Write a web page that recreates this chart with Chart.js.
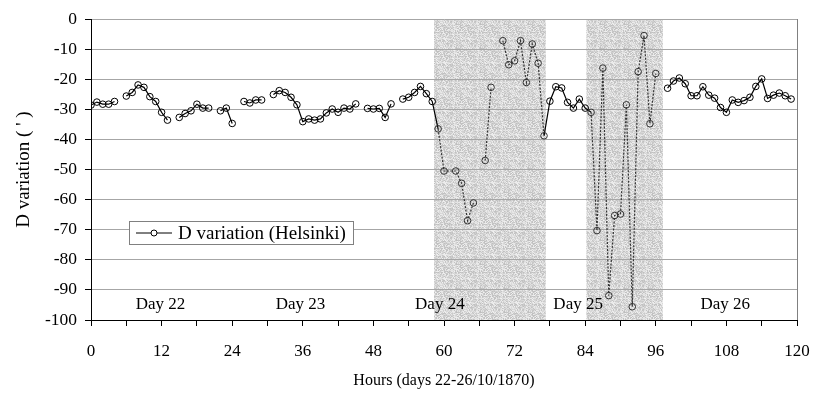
<!DOCTYPE html>
<html>
<head>
<meta charset="utf-8">
<script src="https://cdn.jsdelivr.net/npm/chart.js@4"></script>
<style>
  html, body { margin: 0; padding: 0; background: #fff; }
  #wrap { width: 814px; height: 394px; }
</style>
</head>
<body>
<div id="wrap"><canvas id="chart" width="814" height="394"></canvas></div>
<script>
// hourly D readings, null = break in the record
const hours = [
  0, 1, 2, 3, 4, 5, 6, 7, 8, 9, 10, 11, 12, 13, 14, 15, 16, 17, 18, 19,
  20, 21, 22, 23, 24, 25, 26, 27, 28, 29, 30, 31, 32, 33, 34, 35, 36, 37, 38, 39,
  40, 41, 42, 43, 44, 45, 46, 47, 48, 49, 50, 51, 52, 53, 54, 55, 56, 57, 58, 59,
  60, 62, 63, 64, 65, 66, 67, 68, 69, 70, 71, 72, 73, 74, 75, 76, 77, 78, 79,
  80, 81, 82, 83, 84, 85, 86, 87, 88, 89, 90, 91, 92, 93, 94, 95, 96, 97, 98, 99,
  100, 101, 102, 103, 104, 105, 106, 107, 108, 109, 110, 111, 112, 113, 114, 115, 116, 117, 118, 119
];
const dValues = [
  -28.6, -27.6, -28.3, -28.3, -27.4, null, -25.6, -24.4, -21.9, -22.7, -25.8, -27.4, -31.0, -33.6, null, -32.7, -31.4, -30.5, -28.3, -29.6,
  -29.6, null, -30.5, -29.6, -34.7, null, -27.4, -27.9, -26.9, -26.9, null, -25.1, -23.8, -24.4, -26.0, -28.5, -34.1, -33.2, -33.6, -33.2,
  -31.2, -29.9, -31.0, -29.6, -29.9, -28.2, null, -29.7, -29.9, -29.7, -32.7, -28.2, null, -26.6, -26.0, -24.4, -22.4, -24.8, -27.4, -36.5,
  -50.5, -50.5, -54.6, -67.0, -61.1, null, -47.0, -22.7, null, -7.2, -15.2, -13.9, -7.2, -21.1, -8.3, -14.7, -38.8, -27.3, -22.5,
  -22.9, -27.7, -29.6, -26.6, -29.6, -31.0, -70.3, -16.3, -91.9, -65.3, -64.8, -28.5, -95.6, -17.5, -5.5, -34.8, -18.1, null, -23.0, -20.6,
  -19.6, -21.5, -25.5, -25.5, -22.5, -25.3, -26.3, -29.4, -31.0, -26.9, -27.7, -27.1, -26.0, -22.4, -19.9, -26.4, -25.3, -24.6, -25.5, -26.6
];

// storm intervals (hours)
const shadeStart = [58.3, 84.2];
const shadeEnd = [77.3, 97.2];

const dayLabels = ["Day 22", "Day 23", "Day 24", "Day 25", "Day 26"];
const dayHours = [11.8, 35.6, 59.3, 82.8, 107.8];
const dayLevel = -95;

const serif = "'Liberation Serif', 'Times New Roman', serif";

function inShade(h) {
  for (let i = 0; i < shadeStart.length; i++) {
    if (h >= shadeStart[i] && h <= shadeEnd[i]) return true;
  }
  return false;
}

// grey stipple for the shaded bands
function makeStipple() {
  const c = document.createElement('canvas');
  c.width = 24; c.height = 24;
  const g = c.getContext('2d');
  const img = g.createImageData(24, 24);
  for (let y = 0; y < 24; y++) {
    for (let x = 0; x < 24; x++) {
      let n = (x * 374761393 + y * 668265263) | 0;
      n = (n ^ (n >>> 13)) * 1274126177 | 0;
      const t = ((n >>> 16) & 255) / 255;
      const v = Math.round(190 + t * 52);
      const k = (y * 24 + x) * 4;
      img.data[k] = v; img.data[k + 1] = v; img.data[k + 2] = v; img.data[k + 3] = 255;
    }
  }
  g.putImageData(img, 0, 0);
  return g.createPattern(c, 'repeat');
}

const bandsPlugin = {
  id: 'bands',
  beforeDraw(chart) {
    const { ctx, chartArea, scales } = chart;
    const pat = makeStipple();
    ctx.save();
    ctx.fillStyle = pat;
    for (let i = 0; i < shadeStart.length; i++) {
      const x1 = scales.x.getPixelForValue(shadeStart[i]);
      const x2 = scales.x.getPixelForValue(shadeEnd[i]);
      ctx.fillRect(x1, chartArea.top, x2 - x1, chartArea.bottom - chartArea.top);
    }
    ctx.restore();
  },
  afterDraw(chart) {
    const { ctx, chartArea, scales } = chart;
    ctx.save();
    // right frame
    ctx.strokeStyle = '#808080';
    ctx.lineWidth = 1;
    ctx.beginPath();
    ctx.moveTo(Math.round(chartArea.right) + 0.5, chartArea.top);
    ctx.lineTo(Math.round(chartArea.right) + 0.5, chartArea.bottom);
    ctx.stroke();

    // day names
    ctx.fillStyle = '#000';
    ctx.font = "17px " + serif;
    ctx.textAlign = 'center';
    ctx.textBaseline = 'middle';
    dayLabels.forEach((lab, i) => {
      ctx.fillText(lab, scales.x.getPixelForValue(dayHours[i]), scales.y.getPixelForValue(dayLevel));
    });

    // legend box
    const lx = 129, ly = 221, lw = 224, lh = 23;
    ctx.fillStyle = '#fff';
    ctx.fillRect(lx, ly, lw, lh);
    ctx.strokeStyle = '#808080';
    ctx.strokeRect(lx + 0.5, ly + 0.5, lw, lh);
    const my = ly + lh / 2 + 0.5;
    ctx.strokeStyle = '#000';
    ctx.beginPath();
    ctx.moveTo(136, my);
    ctx.lineTo(172, my);
    ctx.stroke();
    ctx.fillStyle = '#fff';
    ctx.beginPath();
    ctx.arc(154, my, 3, 0, Math.PI * 2);
    ctx.fill();
    ctx.stroke();
    ctx.fillStyle = '#000';
    ctx.font = "19px " + serif;
    ctx.textAlign = 'left';
    ctx.fillText(chart.data.datasets[0].label, 178, my + 1);
    ctx.restore();
  }
};

const points = hours.map((h, i) => ({ x: h, y: dValues[i] }));

new Chart(document.getElementById('chart'), {
  type: 'line',
  data: {
    datasets: [{
      label: 'D variation (Helsinki)',
      data: points,
      borderColor: '#000',
      borderWidth: 1.2,
      pointRadius: 3.3,
      pointBorderWidth: 1,
      pointBorderColor: ctx => (ctx.raw && inShade(ctx.raw.x)) ? '#333' : '#000',
      pointBackgroundColor: 'rgba(0,0,0,0)',
      spanGaps: false,
      tension: 0,
      segment: {
        borderDash: ctx => (inShade(hours[ctx.p0DataIndex]) && inShade(hours[ctx.p1DataIndex])) ? [2, 1.5] : undefined,
        borderColor: ctx => (inShade(hours[ctx.p0DataIndex]) && inShade(hours[ctx.p1DataIndex])) ? '#333' : undefined
      }
    }]
  },
  options: {
    responsive: false,
    animation: false,
    layout: { autoPadding: false, padding: { top: 19, right: 17, left: 0, bottom: 0 } },
    plugins: {
      legend: { display: false },
      tooltip: { enabled: false }
    },
    scales: {
      x: {
        type: 'linear',
        min: 0,
        max: 120,
        afterFit: s => { s.height = 74; s.paddingLeft = 0; s.paddingRight = 0; },
        ticks: {
          stepSize: 6,
          autoSkip: false,
          maxRotation: 0,
          padding: 15,
          color: '#000',
          font: { family: serif, size: 17 },
          callback: v => (v % 12 === 0 ? v : '')
        },
        grid: { drawOnChartArea: false, tickLength: 6, tickColor: '#000' },
        border: { color: '#000', width: 1 },
        title: {
          display: true,
          text: 'Hours (days 22-26/10/1870)',
          color: '#000',
          font: { family: serif, size: 16 },
          padding: { top: 0, bottom: 4 }
        }
      },
      y: {
        min: -100,
        max: 0,
        afterFit: s => { s.width = 91; s.paddingTop = 0; s.paddingBottom = 0; },
        ticks: {
          stepSize: 10,
          padding: 8,
          color: '#000',
          font: { family: serif, size: 17.5 }
        },
        grid: { color: '#a6a6a6', lineWidth: 1, tickLength: 6, tickColor: '#000' },
        border: { color: '#000', width: 1 },
        title: {
          display: true,
          text: "D variation ( ' )",
          color: '#000',
          font: { family: serif, size: 19 },
          padding: { top: 13, bottom: 0 }
        }
      }
    }
  },
  plugins: [bandsPlugin]
});
</script>
</body>
</html>
